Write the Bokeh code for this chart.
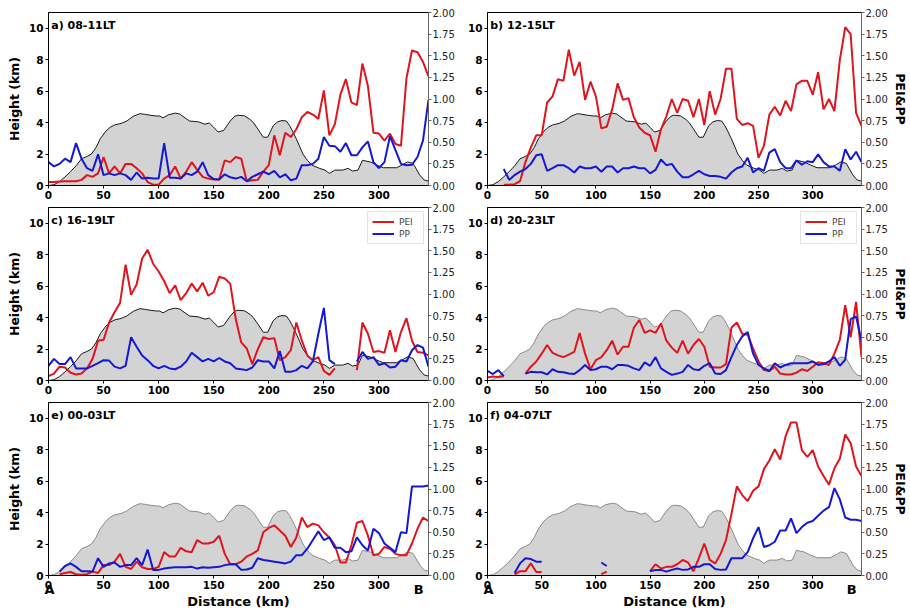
import numpy as np
from bokeh.plotting import figure
from bokeh.models import (Range1d, LinearAxis, Label, Legend, LegendItem,
                          FixedTicker, PrintfTickFormatter)
from bokeh.layouts import column, row
from bokeh.embed import file_html
from bokeh.resources import INLINE

# Distance along the A-B cross-section (km), one sample every 5 km
distance = list(range(0, 350, 5))

# Terrain profile along the section (km, km)
terrain_km = [0, 5, 10, 15, 20, 25, 30, 35, 39, 43, 47, 52, 56, 60, 66, 71, 77, 83, 88, 92,
              98, 101, 104, 109, 115, 119, 122, 128, 136, 142, 146, 150, 154, 159, 165, 169,
              172, 178, 183, 186, 190, 195, 199, 204, 208, 212, 216, 219, 222, 225, 231, 235,
              239, 246, 251, 255, 260, 267, 272, 276, 281, 285, 292, 298, 304, 316, 322, 326,
              331, 337, 341, 345]
terrain_h = [0.0, 0.05, 0.25, 0.55, 0.88, 1.25, 1.7, 1.85, 2.0, 2.4, 2.97, 3.45, 3.7, 3.85,
             3.95, 4.1, 4.4, 4.57, 4.52, 4.47, 4.42, 4.42, 4.3, 4.5, 4.6, 4.55, 4.4, 4.1, 4.05,
             3.9, 3.97, 3.7, 3.4, 3.5, 4.1, 4.4, 4.47, 4.43, 4.2, 4.0, 3.6, 3.07, 3.07, 3.8,
             4.05, 4.13, 4.1, 3.8, 3.4, 2.97, 2.0, 1.6, 1.3, 1.09, 0.98, 0.77, 0.98, 0.98,
             1.09, 0.92, 0.98, 1.6, 1.5, 1.3, 1.13, 1.13, 1.34, 1.5, 1.4, 0.67, 0.35, 0.28]

# Section end points
end_km = [1, 336]
end_names = ["A", "B"]

N = None
# a) 08-11LT
pei_a = [0.04, 0.04, 0.045, 0.05, 0.05, 0.05, 0.065, 0.12, 0.10, 0.14,
         0.33, 0.14, 0.22, 0.14, 0.25, 0.25, 0.20, 0.14, 0.04, 0.01,
         0.01, 0.08, 0.12, 0.22, 0.08, 0.16, 0.27, 0.18, 0.10, 0.08,
         0.07, 0.07, 0.29, 0.27, 0.33, 0.31, 0.05, 0.06, 0.065, 0.16,
         0.235, 0.58, 0.35, 0.61, 0.56, 0.65, 0.79, 0.85, 0.82, 0.77,
         1.10, 0.58, 0.71, 1.05, 1.23, 0.96, 0.93, 1.41, 1.15, 0.61,
         0.60, 0.52, 0.60, 0.48, 0.46, 1.24, 1.56, 1.54, 1.43, 1.26]
pp_a = [0.27, 0.22, 0.25, 0.31, 0.27, 0.49, 0.31, 0.20, 0.17, 0.36,
        0.12, 0.14, 0.12, 0.14, 0.12, 0.065, 0.15, 0.08, 0.09, 0.08,
        0.08, 0.49, 0.09, 0.09, 0.08, 0.14, 0.12, 0.16, 0.27, 0.12,
        0.075, 0.07, 0.13, 0.095, 0.08, 0.10, 0.05, 0.10, 0.13, 0.16,
        0.13, 0.17, 0.095, 0.13, 0.06, 0.08, 0.235, 0.235, 0.25, 0.31,
        0.56, 0.46, 0.455, 0.39, 0.49, 0.35, 0.35, 0.44, 0.51, 0.27,
        0.20, 0.27, 0.57, 0.41, 0.25, 0.235, 0.24, 0.33, 0.52, 0.99]
# b) 12-15LT
pei_b = [N, N, N, 0.01, 0.01, 0.015, 0.05, 0.27, 0.44, 0.58,
         0.58, 0.96, 1.03, 1.23, 1.21, 1.57, 1.27, 1.43, 0.99, 1.20,
         1.03, 0.66, 0.68, 0.88, 1.18, 0.99, 1.01, 0.79, 0.67, 0.61,
         0.58, 0.39, 0.65, 0.80, 1.00, 0.84, 1.00, 0.98, 0.79, 1.00,
         0.70, 1.09, 0.82, 1.00, 1.35, 1.35, 0.77, 0.70, 0.72, 0.69,
         0.32, 0.46, 0.82, 0.91, 0.81, 0.98, 0.86, 1.17, 1.21, 1.21,
         1.05, 1.31, 0.88, 1.00, 0.86, 1.45, 1.83, 1.75, 0.84, 0.69]
pp_b = [N, N, N, 0.19, 0.065, 0.12, 0.16, 0.19, 0.25, 0.35,
        0.36, 0.17, 0.20, 0.235, 0.235, 0.20, 0.15, 0.22, 0.20, 0.20,
        0.22, 0.16, 0.22, 0.22, 0.15, 0.20, 0.20, 0.22, 0.20, 0.20,
        0.14, 0.18, 0.30, 0.235, 0.25, 0.16, 0.095, 0.095, 0.13, 0.17,
        0.13, 0.11, 0.11, 0.10, 0.08, 0.15, 0.20, 0.22, 0.32, 0.15,
        0.20, 0.17, 0.38, 0.42, 0.27, 0.20, 0.20, 0.29, 0.24, 0.28,
        0.27, 0.36, 0.27, 0.22, 0.22, 0.17, 0.42, 0.30, 0.39, 0.27]
# c) 16-19LT
pei_c = [0.05, 0.08, 0.16, 0.15, 0.09, 0.07, 0.08, 0.14, 0.25, 0.46,
         0.47, 0.67, 0.79, 0.90, 1.34, 0.99, 1.11, 1.41, 1.51, 1.35,
         1.26, 1.15, 1.01, 1.10, 0.93, 1.01, 1.12, 1.03, 1.13, 0.98,
         1.02, 1.20, 1.18, 1.12, 0.71, 0.44, 0.37, 0.19, 0.36, 0.50,
         0.48, 0.49, 0.235, 0.27, 0.35, 0.67, 0.46, 0.29, 0.235, 0.27,
         0.11, 0.065, 0.14, N, N, N, 0.12, 0.67, 0.54, 0.33,
         0.34, 0.32, 0.58, 0.33, 0.56, 0.72, 0.46, 0.33, 0.32, 0.29]
pp_c = [0.17, 0.25, 0.19, 0.19, 0.27, 0.14, 0.14, 0.14, 0.17, 0.20,
        0.235, 0.23, 0.16, 0.14, 0.17, 0.50, 0.39, 0.29, 0.235, 0.17,
        0.14, 0.17, 0.14, 0.13, 0.16, 0.22, 0.32, 0.27, 0.22, 0.25,
        0.22, 0.26, 0.22, 0.20, 0.14, 0.13, 0.12, 0.15, 0.235, 0.22,
        0.22, 0.14, 0.34, 0.10, 0.10, 0.12, 0.17, 0.14, 0.22, 0.54,
        0.84, 0.235, 0.19, N, N, N, 0.22, 0.33, 0.25, 0.27,
        0.18, 0.20, 0.15, 0.16, 0.235, 0.22, 0.35, 0.41, 0.38, 0.16]
# d) 20-23LT
pei_d = [0.035, 0.045, 0.04, 0.05, N, N, N, 0.08, 0.16, 0.22,
         0.31, 0.41, 0.32, 0.29, 0.27, 0.30, 0.33, 0.55, 0.31, 0.13,
         0.235, 0.27, 0.35, 0.46, 0.30, 0.39, 0.39, 0.61, 0.70, 0.55,
         0.58, 0.55, 0.66, 0.46, 0.38, 0.32, 0.46, 0.31, 0.41, 0.48,
         0.39, 0.16, 0.15, 0.15, 0.19, 0.61, 0.67, 0.54, 0.53, 0.37,
         0.22, 0.12, 0.11, 0.16, 0.08, 0.07, 0.07, 0.09, 0.13, 0.11,
         0.16, 0.21, 0.20, 0.18, 0.31, 0.47, 0.87, 0.50, 0.91, 0.27]
pp_d = [0.11, 0.075, 0.12, 0.05, N, N, N, 0.08, 0.10, 0.095,
        0.095, 0.07, 0.13, 0.10, 0.095, 0.08, 0.075, 0.12, 0.18, 0.12,
        0.13, 0.16, 0.16, 0.13, 0.18, 0.18, 0.17, 0.14, 0.12, 0.21,
        0.17, 0.27, 0.14, 0.10, 0.065, 0.08, 0.10, 0.18, 0.13, 0.12,
        0.17, 0.20, 0.08, 0.075, 0.12, 0.27, 0.41, 0.51, 0.56, 0.31,
        0.18, 0.14, 0.11, 0.20, 0.15, 0.18, 0.20, 0.20, 0.20, 0.20,
        0.22, 0.18, 0.19, 0.22, 0.27, 0.17, 0.24, 0.71, 0.74, 0.46]
# e) 00-03LT
pei_e = [N, N, 0.015, 0.03, 0.04, 0.015, 0.01, 0.015, 0.045, 0.03,
         0.12, 0.12, 0.16, 0.25, 0.10, 0.075, 0.16, 0.095, 0.075, 0.075,
         0.10, 0.27, 0.22, 0.22, 0.32, 0.28, 0.27, 0.41, 0.37, 0.37,
         0.39, 0.46, 0.25, 0.13, 0.13, 0.16, 0.22, 0.25, 0.29, 0.50,
         0.55, 0.58, 0.52, 0.46, 0.33, 0.44, 0.67, 0.56, 0.60, 0.58,
         0.50, 0.44, 0.35, 0.15, 0.15, 0.35, 0.61, 0.63, 0.46, 0.235,
         0.25, 0.33, 0.31, 0.25, 0.235, 0.235, 0.37, 0.54, 0.67, 0.63]
pp_e = [N, N, 0.045, 0.11, 0.14, 0.10, 0.05, 0.05, 0.045, 0.20,
        0.10, 0.14, 0.15, 0.10, 0.12, 0.12, 0.20, 0.12, 0.30, 0.065,
        0.065, 0.08, 0.09, 0.095, 0.095, 0.095, 0.10, 0.08, 0.095, 0.09,
        0.095, 0.10, 0.12, 0.13, 0.13, 0.065, 0.07, 0.09, 0.20, 0.18,
        0.17, 0.16, 0.15, 0.14, 0.16, 0.235, 0.235, 0.31, 0.41, 0.51,
        0.41, 0.44, 0.32, 0.32, 0.27, 0.28, 0.44, 0.35, 0.29, 0.54,
        0.49, 0.37, 0.32, 0.27, 0.50, 0.49, 1.03, 1.03, 1.03, 1.04]
# f) 04-07LT
pei_f = [N, N, N, N, N, 0.01, 0.05, 0.05, 0.14, 0.04,
         0.04, N, N, N, N, N, N, N, N, N,
         N, 0.015, 0.045, N, N, N, N, N, N, N,
         0.05, 0.13, 0.08, 0.10, 0.10, 0.13, 0.18, 0.15, 0.05, 0.20,
         0.37, 0.18, 0.14, 0.25, 0.41, 0.71, 1.03, 0.93, 0.86, 0.98,
         1.03, 1.23, 1.33, 1.46, 1.34, 1.61, 1.77, 1.77, 1.45, 1.37,
         1.45, 1.26, 1.15, 1.05, 1.24, 1.35, 1.63, 1.53, 1.26, 1.15]
pp_f = [N, N, N, N, N, 0.03, 0.14, 0.20, 0.19, 0.16,
        0.16, N, N, N, N, N, N, N, N, N,
        N, 0.15, 0.11, N, N, N, N, N, N, N,
        0.05, 0.065, 0.065, 0.045, 0.065, 0.08, 0.065, 0.07, 0.10, 0.10,
        0.13, 0.13, 0.075, 0.065, 0.07, 0.20, 0.20, 0.20, 0.27, 0.43,
        0.56, 0.33, 0.35, 0.39, 0.52, 0.52, 0.66, 0.49, 0.56, 0.61,
        0.63, 0.69, 0.75, 0.79, 1.01, 0.88, 0.67, 0.645, 0.645, 0.63]

panel_titles = ["a) 08-11LT", "b) 12-15LT", "c) 16-19LT",
                "d) 20-23LT", "e) 00-03LT", "f) 04-07LT"]
pei_series = [pei_a, pei_b, pei_c, pei_d, pei_e, pei_f]
pp_series = [pp_a, pp_b, pp_c, pp_d, pp_e, pp_f]

x_ticks = [0, 50, 100, 150, 200, 250, 300]
h_ticks = [0, 2, 4, 6, 8, 10]
idx_ticks = [0, 0.25, 0.5, 0.75, 1.0, 1.25, 1.5, 1.75, 2.0]

RED = "#e0141c"
BLUE = "#1418d2"
FONT = "DejaVu Sans"


def as_float(vals):
    return np.array([np.nan if v is None else v for v in vals], dtype=float)


def bold_label(axis, text, size):
    axis.axis_label = text
    axis.axis_label_text_font = FONT
    axis.axis_label_text_font_size = size
    axis.axis_label_text_font_style = "bold"
    axis.axis_label_text_color = "black"


def make_panel(i):
    r, c = divmod(i, 2)
    left = c == 0
    width = 462 if left else 448
    height = [202, 195, 216][r]
    p = figure(width=width, height=height,
               x_range=Range1d(0, 345), y_range=Range1d(0, 11),
               output_backend="svg", toolbar_location=None,
               min_border_left=48 if left else 25,
               min_border_right=34 if left else 41,
               min_border_top=12 if r == 0 else 5,
               min_border_bottom=38 if r == 2 else 17)
    p.extra_y_ranges = {"idx": Range1d(0, 2)}
    p.grid.visible = False
    p.outline_line_color = "black"
    p.outline_line_width = 1
    p.background_fill_color = "white"

    # terrain
    edge = "black" if r == 0 or (r == 1 and left) else "#808080"
    p.varea(x=terrain_km, y1=0, y2=terrain_h, fill_color="#d3d3d3")
    p.line(terrain_km, terrain_h, line_color=edge, line_width=0.9)

    # indices
    r_pei = p.line(distance, as_float(pei_series[i]), y_range_name="idx",
                   line_color=RED, line_width=2)
    r_pp = p.line(distance, as_float(pp_series[i]), y_range_name="idx",
                  line_color=BLUE, line_width=2)

    # bottom axis
    xa = p.xaxis[0]
    xa.ticker = FixedTicker(ticks=x_ticks)
    xa.major_label_text_font = FONT
    xa.major_label_text_font_size = "10.5px"
    xa.major_label_text_font_style = "bold"
    xa.major_label_text_color = "black"
    xa.major_label_standoff = 2
    xa.major_tick_out = 3
    xa.major_tick_in = 0
    xa.minor_tick_line_color = None
    xa.axis_line_color = "black"

    # left axis (height)
    ya = p.yaxis[0]
    ya.ticker = FixedTicker(ticks=h_ticks)
    ya.major_label_text_font = FONT
    ya.major_label_text_font_size = "10.5px"
    ya.major_label_text_font_style = "bold"
    ya.major_label_text_color = "black"
    ya.major_label_standoff = 2
    ya.major_tick_out = 3
    ya.major_tick_in = 0
    ya.minor_tick_line_color = None
    ya.axis_line_color = "black"
    if left:
        bold_label(ya, "Height (km)", "12.5px")
        ya.axis_label_standoff = 4

    # right axis (PEI & PP)
    ra = LinearAxis(y_range_name="idx", ticker=FixedTicker(ticks=idx_ticks),
                    formatter=PrintfTickFormatter(format="%.2f"))
    ra.major_label_text_font = FONT
    ra.major_label_text_font_size = "10px"
    ra.major_label_text_color = "#222222"
    ra.major_label_standoff = 1
    ra.major_tick_out = 3
    ra.major_tick_in = 0
    ra.minor_tick_line_color = None
    ra.axis_line_color = "#666666"
    ra.major_tick_line_color = "#666666"
    if not left:
        bold_label(ra, "PEI&PP", "12.5px")
        ra.axis_label_standoff = 2
    p.add_layout(ra, "right")

    # panel tag
    p.add_layout(Label(x=2.5, y=10.2, text=panel_titles[i], text_font=FONT,
                       text_font_size="11px", text_font_style="bold",
                       text_baseline="middle", text_color="black"))

    if r == 1:
        legend = Legend(items=[LegendItem(label="PEI", renderers=[r_pei]),
                               LegendItem(label="PP", renderers=[r_pp])],
                        location="top_right")
        legend.label_text_font = FONT
        legend.label_text_font_size = "9px"
        legend.glyph_width = 22
        legend.glyph_height = 11
        legend.label_height = 11
        legend.spacing = 1
        legend.padding = 4
        legend.margin = 4
        legend.label_standoff = 5
        legend.border_line_color = "#cccccc"
        legend.background_fill_alpha = 0.85
        p.add_layout(legend)

    if r == 2:
        # end-point letters of the section plus the distance title
        ea = LinearAxis(ticker=FixedTicker(ticks=end_km),
                        major_label_overrides={k: n for k, n in zip(end_km, end_names)})
        ea.axis_line_color = None
        ea.major_tick_line_color = None
        ea.minor_tick_line_color = None
        ea.major_tick_out = 0
        ea.major_tick_in = 0
        ea.major_label_standoff = -10
        ea.major_label_text_font = FONT
        ea.major_label_text_font_size = "13px"
        ea.major_label_text_font_style = "bold"
        ea.major_label_text_color = "black"
        bold_label(ea, "Distance (km)", "13px")
        ea.axis_label_standoff = -6
        p.add_layout(ea, "below")
    return p


panels = [make_panel(i) for i in range(6)]
layout = column(row(panels[0], panels[1]),
                row(panels[2], panels[3]),
                row(panels[4], panels[5]))

open("out.html", "w").write(file_html(layout, INLINE))
